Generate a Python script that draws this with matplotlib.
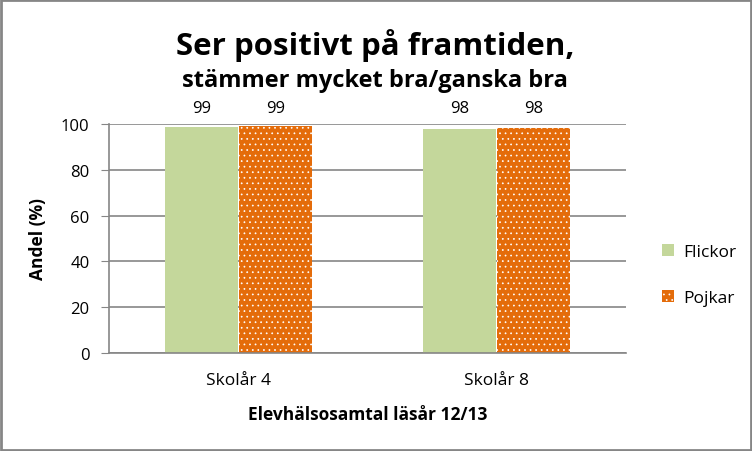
import numpy as np
import matplotlib
matplotlib.use('Agg')
import matplotlib.pyplot as plt
from matplotlib.patches import Rectangle

plt.rcParams['font.family'] = ['Open Sans', 'DejaVu Sans']
plt.rcParams['hatch.linewidth'] = 0.5

# data
categories = ['Skolår 4', 'Skolår 8']
flickor = [98.9, 97.9]
pojkar = [99.3, 98.1]
series_names = ['Flickor', 'Pojkar']
yticks = [0, 20, 40, 60, 80, 100]

fig = plt.figure(figsize=(7.52, 4.52), dpi=100)
ax = fig.add_axes([109 / 752, 1 - 354 / 452, 517 / 752, 229 / 452])

x = np.arange(len(categories))
w = 0.283
b1 = ax.bar(x - w / 2 - 0.002, flickor, w, color='#C4D79B', linewidth=0, label=series_names[0])
b2 = ax.bar(x + w / 2 + 0.002, pojkar, w, color='#E46C0A', edgecolor='white', hatch='...',
            linewidth=0, label=series_names[1])

for bars in (b1, b2):
    for r in bars:
        ax.text(r.get_x() + r.get_width() / 2, 103.5, '%.0f' % r.get_height(),
                ha='center', va='bottom', fontsize=12)

ax.set_xlim(-0.5, 1.5)
ax.set_ylim(0, 100)
ax.set_yticks(yticks)
ax.set_xticks(x)
ax.set_xticklabels(categories, fontsize=12.5)
ax.tick_params(axis='y', labelsize=12, length=6, color='#868686', pad=8)
ax.tick_params(axis='x', length=0, pad=14)
ax.grid(axis='y', color='#868686', linewidth=1.2)
ax.set_axisbelow(True)
for s in ['top', 'right']:
    ax.spines[s].set_visible(False)
ax.spines['left'].set_color('#868686')
ax.spines['bottom'].set_color('#868686')
ax.spines['left'].set_linewidth(1.2)
ax.spines['bottom'].set_linewidth(1.2)

ax.set_ylabel('Andel (%)', fontsize=12.5, fontweight='bold', labelpad=10)
ax.set_xlabel('Elevhälsosamtal läsår 12/13', fontsize=12.5, fontweight='bold', labelpad=12)

fig.text(375 / 752, 1 - 45 / 452, 'Ser positivt på framtiden,', ha='center', va='center',
         fontsize=22.5, fontweight='bold')
fig.text(375 / 752, 1 - 81 / 452, 'stämmer mycket bra/ganska bra', ha='center', va='center',
         fontsize=17, fontweight='bold')

ax.legend(loc='center left', bbox_to_anchor=(1.04, 0.34), frameon=False, fontsize=12.5,
          handlelength=0.7, handleheight=0.7, labelspacing=1.75, handletextpad=0.5)

fig.patches.append(Rectangle((0.0015, 0.002), 0.997, 0.996, transform=fig.transFigure,
                             fill=False, edgecolor='#868686', linewidth=2))

fig.savefig('out.png', dpi=100)
